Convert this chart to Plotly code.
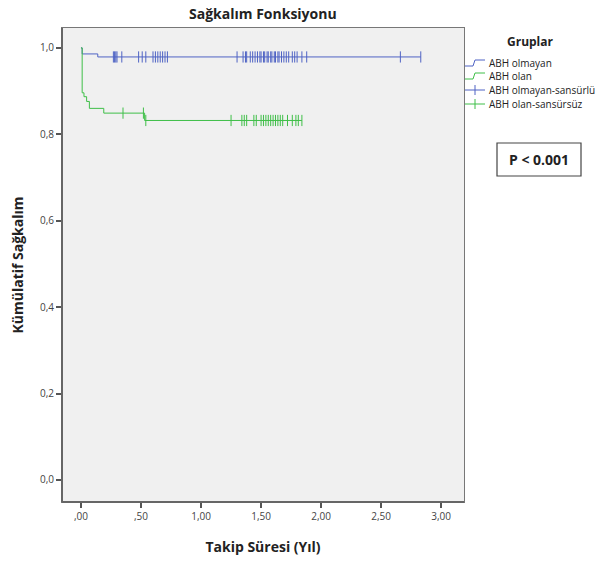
import plotly.graph_objects as go

# ---- data ----
blue_times = [0.0, 0.01, 0.14, 2.83]
blue_surv = [1.0, 0.986, 0.979, 0.979]
green_times = [0.0, 0.01, 0.025, 0.047, 0.07, 0.19, 0.53, 1.84]
green_surv = [1.0, 0.896, 0.887, 0.876, 0.860, 0.849, 0.832, 0.832]

blue_cens = [0.27, 0.28, 0.29, 0.30, 0.34, 0.48, 0.51, 0.54, 0.60, 0.62, 0.64, 0.66,
             0.68, 0.70, 0.72, 1.30, 1.35, 1.37, 1.38, 1.41, 1.43, 1.45, 1.47, 1.49,
             1.50, 1.52, 1.53, 1.55, 1.56, 1.58, 1.59, 1.61, 1.62, 1.64, 1.65, 1.67,
             1.69, 1.71, 1.73, 1.76, 1.78, 1.80, 1.84, 1.88, 2.66, 2.83]
green_cens = [0.35, 0.52, 0.54, 1.25, 1.34, 1.36, 1.38, 1.44, 1.46, 1.50, 1.52, 1.54,
              1.56, 1.58, 1.60, 1.62, 1.64, 1.66, 1.68, 1.72, 1.76, 1.79, 1.81, 1.84]

x_ticks = [0, 0.5, 1.0, 1.5, 2.0, 2.5, 3.0]
x_ticktext = [",00", ",50", "1,00", "1,50", "2,00", "2,50", "3,00"]
y_ticks = [0, 0.2, 0.4, 0.6, 0.8, 1.0]
y_ticktext = ["0,0", "0,2", "0,4", "0,6", "0,8", "1,0"]

legend_labels = ["ABH olmayan", "ABH olan", "ABH olmayan-sansürlü", "ABH olan-sansürsüz"]

BLUE = "#4f63c4"
GREEN = "#3fbf48"


def surv_at(t, times, surv):
    s = surv[0]
    for ti, si in zip(times, surv):
        if ti <= t:
            s = si
    return s


fig = go.Figure()
fig.add_trace(go.Scatter(x=blue_times, y=blue_surv, mode="lines", line_shape="hv",
                         line=dict(color=BLUE, width=1), showlegend=False))
fig.add_trace(go.Scatter(x=green_times, y=green_surv, mode="lines", line_shape="hv",
                         line=dict(color=GREEN, width=1), showlegend=False))
fig.add_trace(go.Scatter(x=blue_cens, y=[surv_at(t, blue_times, blue_surv) for t in blue_cens],
                         mode="markers", marker=dict(symbol="line-ns-open", size=8, color=BLUE,
                                                     line=dict(color=BLUE, width=1)),
                         showlegend=False))
fig.add_trace(go.Scatter(x=green_cens, y=[surv_at(t, green_times, green_surv) for t in green_cens],
                         mode="markers", marker=dict(symbol="line-ns-open", size=8, color=GREEN,
                                                     line=dict(color=GREEN, width=1)),
                         showlegend=False))

W, H = 614, 561
L, R, T, B = 62, 464, 28, 502


def px(x):
    return (x - L) / (R - L)


def py(y):
    return (B - y) / (B - T)


shapes = []
annotations = []
font_main = "Open Sans"

# custom legend
annotations.append(dict(x=px(530), y=py(42), xref="paper", yref="paper", text="<b>Gruplar</b>",
                        xanchor="center", yanchor="middle",
                        showarrow=False, font=dict(family=font_main, size=12, color="#222")))
ys = [63, 76, 90, 104]
cols = [BLUE, GREEN, BLUE, GREEN]
for i, (lab, yc, c) in enumerate(zip(legend_labels, ys, cols)):
    if i < 2:
        path = (f"M {px(465)},{py(yc+3)} L {px(473)},{py(yc+3)} L {px(475)},{py(yc-3)} "
                f"L {px(485)},{py(yc-3)}")
        shapes.append(dict(type="path", xref="paper", yref="paper", path=path,
                           line=dict(color=c, width=1)))
    else:
        shapes.append(dict(type="line", xref="paper", yref="paper", x0=px(465), x1=px(485),
                           y0=py(yc), y1=py(yc), line=dict(color=c, width=1)))
        shapes.append(dict(type="line", xref="paper", yref="paper", x0=px(475), x1=px(475),
                           y0=py(yc - 5), y1=py(yc + 5), line=dict(color=c, width=1)))
    annotations.append(dict(x=px(487), y=py(yc), xref="paper", yref="paper", text=lab,
                            xanchor="left", yanchor="middle", showarrow=False,
                            font=dict(family=font_main, size=10, color="#222")))

# p-value box
shapes.append(dict(type="rect", xref="paper", yref="paper", x0=px(497), x1=px(581),
                   y0=py(176), y1=py(143), line=dict(color="#444", width=1.2),
                   fillcolor="white", layer="below"))
annotations.append(dict(x=px(539), y=py(159.5), xref="paper", yref="paper",
                        text="<b>P < 0.001</b>", showarrow=False,
                        xanchor="center", yanchor="middle",
                        font=dict(family=font_main, size=14, color="#222")))

# heavier left/bottom frame like the reference
shapes.append(dict(type="line", xref="paper", yref="paper", x0=0, x1=0, y0=0, y1=1,
                   line=dict(color="#666", width=2)))
shapes.append(dict(type="line", xref="paper", yref="paper", x0=0, x1=1, y0=0, y1=0,
                   line=dict(color="#666", width=2)))

# title placed just above the plot frame
annotations.append(dict(x=px(263), y=py(14), xref="paper", yref="paper",
                        text="<b>Sağkalım Fonksiyonu</b>", showarrow=False,
                        xanchor="center", yanchor="middle",
                        font=dict(family=font_main, size=14, color="#222")))

fig.update_layout(
    width=W, height=H,
    margin=dict(l=L, r=W - R, t=T, b=H - B, autoexpand=False),
    paper_bgcolor="white", plot_bgcolor="#f0f0f0",
    showlegend=False, hovermode=False,
    shapes=shapes, annotations=annotations,
    font=dict(family=font_main),
)
fig.update_xaxes(range=[-0.158, 3.19], tickvals=x_ticks, ticktext=x_ticktext,
                 showgrid=False, zeroline=False, showline=True, mirror=True, automargin=False,
                 linecolor="#777", linewidth=1, ticks="outside", ticklen=5, tickcolor="#555",
                 tickwidth=1.5,
                 tickfont=dict(family=font_main, size=10, color="#444"),
                 title=dict(text="<b>Takip Süresi (Yıl)</b>", standoff=20,
                            font=dict(family=font_main, size=14, color="#222")))
fig.update_yaxes(range=[-0.051, 1.046], tickvals=y_ticks, ticktext=y_ticktext,
                 showgrid=False, zeroline=False, showline=True, mirror=True, automargin=False,
                 linecolor="#777", linewidth=1, ticks="outside", ticklen=5, tickcolor="#555",
                 tickwidth=1.5,
                 tickfont=dict(family=font_main, size=10, color="#444"),
                 title=dict(text="<b>Kümülatif Sağkalım</b>", standoff=13,
                            font=dict(family=font_main, size=14, color="#222")))

fig.write_html("out.html", config={"displayModeBar": False},
               post_script="document.body.style.margin='0';document.body.style.overflow='hidden';")
